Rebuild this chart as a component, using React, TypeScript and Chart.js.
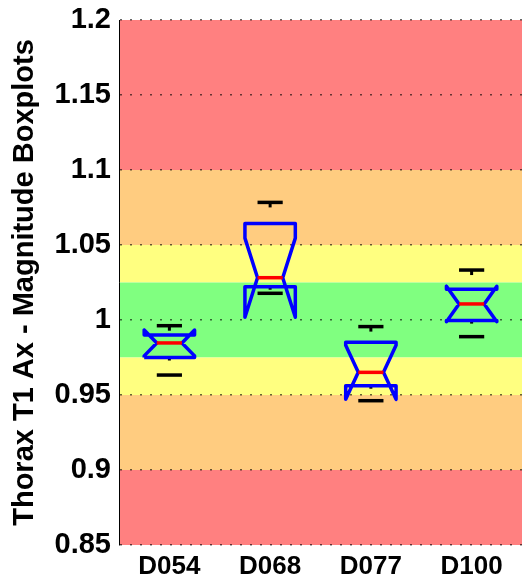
import React, { useEffect, useRef } from 'react';
import { Chart, registerables } from 'chart.js';
Chart.register(...registerables);

const categories = ['D054', 'D068', 'D077', 'D100'];
const whiskerHigh = [0.9962, 1.0784, 0.9956, 1.0333];
const q3 = [0.99, 1.0644, 0.9851, 1.0205];
const notchHigh = [0.9933, 1.0546, 0.9831, 1.0225];
const medians = [0.9847, 1.0282, 0.9651, 1.0107];
const notchLow = [0.9761, 1.0018, 0.9471, 0.9989];
const q1 = [0.975, 1.0222, 0.9562, 0.9996];
const whiskerLow = [0.9633, 1.0178, 0.9462, 0.9889];

const yTicks = [0.85, 0.9, 0.95, 1, 1.05, 1.1, 1.15, 1.2];
const bandLows = [1.1, 1.05, 1.025, 0.975, 0.95, 0.9, 0.85];
const bandHighs = [1.2, 1.1, 1.05, 1.025, 0.975, 0.95, 0.9];
const bandColors = ['#FF8080', '#FFCC80', '#FFFF80', '#80FF80', '#FFFF80', '#FFCC80', '#FF8080'];

const BOX_HALF = 0.25;
const NOTCH_HALF = 0.125;

const bandsPlugin = {
  id: 'bands',
  beforeDraw(chart: any) {
    const { ctx, chartArea, scales } = chart;
    const y = scales.y;
    ctx.save();
    bandLows.forEach((lo, i) => {
      const top = y.getPixelForValue(bandHighs[i]);
      const bot = y.getPixelForValue(lo);
      ctx.fillStyle = bandColors[i];
      ctx.fillRect(chartArea.left, top, chartArea.right - chartArea.left, bot - top);
    });
    ctx.restore();
  },
};

function buildDatasets() {
  const ds: any[] = [];
  categories.forEach((_, i) => {
    const c = i + 1;
    const outline = [
      { x: c - BOX_HALF, y: q1[i] },
      { x: c - BOX_HALF, y: notchLow[i] },
      { x: c - NOTCH_HALF, y: medians[i] },
      { x: c - BOX_HALF, y: notchHigh[i] },
      { x: c - BOX_HALF, y: q3[i] },
      { x: c + BOX_HALF, y: q3[i] },
      { x: c + BOX_HALF, y: notchHigh[i] },
      { x: c + NOTCH_HALF, y: medians[i] },
      { x: c + BOX_HALF, y: notchLow[i] },
      { x: c + BOX_HALF, y: q1[i] },
      { x: c - BOX_HALF, y: q1[i] },
    ];
    const common = { showLine: true, pointRadius: 0, fill: false, tension: 0, borderCapStyle: 'butt', borderJoinStyle: 'round' };
    ds.push({ ...common, label: 'median', data: [{ x: c - NOTCH_HALF, y: medians[i] }, { x: c + NOTCH_HALF, y: medians[i] }], borderColor: '#FF0000', borderWidth: 3.5, order: 0 });
    ds.push({ ...common, label: 'capHi', data: [{ x: c - NOTCH_HALF, y: whiskerHigh[i] }, { x: c + NOTCH_HALF, y: whiskerHigh[i] }], borderColor: '#000000', borderWidth: 3.5, order: 0 });
    ds.push({ ...common, label: 'capLo', data: [{ x: c - NOTCH_HALF, y: whiskerLow[i] }, { x: c + NOTCH_HALF, y: whiskerLow[i] }], borderColor: '#000000', borderWidth: 3.5, order: 0 });
    ds.push({ ...common, label: 'box', data: outline, borderColor: '#0000FF', borderWidth: 3.5, order: 1 });
    ds.push({ ...common, label: 'whiskHi', data: [{ x: c, y: whiskerHigh[i] }, { x: c, y: q3[i] }], borderColor: '#000000', borderWidth: 3, borderDash: [5, 40], order: 2 });
    ds.push({ ...common, label: 'whiskLo', data: [{ x: c, y: q1[i] }, { x: c, y: whiskerLow[i] }], borderColor: '#000000', borderWidth: 3, borderDash: [3, 40], order: 2 });
  });
  return ds;
}

export default function App() {
  const ref = useRef<HTMLCanvasElement>(null);
  useEffect(() => {
    if (!ref.current) return;
    const chart = new Chart(ref.current, {
      type: 'scatter',
      data: { datasets: buildDatasets() },
      plugins: [bandsPlugin],
      options: {
        responsive: false,
        animation: false,
        layout: { padding: { top: 20, right: 1, left: 0, bottom: 0 } },
        plugins: { legend: { display: false }, tooltip: { enabled: false } },
        scales: {
          x: {
            type: 'linear',
            min: 0.5,
            max: 4.5,
            afterBuildTicks: (scale: any) => {
              scale.ticks = categories.map((_, i) => ({ value: i + 1 }));
            },
            afterFit: (scale: any) => {
              scale.height = 39;
              scale.paddingLeft = 0;
              scale.paddingRight = 0;
            },
            grid: { display: false, drawTicks: false },
            border: { display: false },
            ticks: {
              autoSkip: false,
              maxRotation: 0,
              padding: 6,
              color: '#000',
              font: { family: 'Liberation Sans, Arial, sans-serif', size: 26, weight: 'bold' },
              callback: (v: any) => categories[Math.round(v) - 1] ?? '',
            },
          },
          y: {
            type: 'linear',
            min: 0.85,
            max: 1.2,
            afterBuildTicks: (scale: any) => {
              scale.ticks = yTicks.map((v) => ({ value: v }));
            },
            afterFit: (scale: any) => {
              scale.width = 119;
              scale.paddingTop = 0;
              scale.paddingBottom = 0;
            },
            grid: { color: 'rgba(0,0,0,0.6)', lineWidth: 1.5, drawTicks: false },
            border: { display: true, color: '#000', width: 1, dash: [2, 8] },
            ticks: {
              padding: 8,
              color: '#000',
              font: { family: 'Liberation Sans, Arial, sans-serif', size: 29, weight: 'bold' },
              callback: (v: any) => String(v),
            },
            title: {
              display: true,
              text: 'Thorax T1 Ax - Magnitude Boxplots',
              color: '#000',
              padding: { top: 8, bottom: 0 },
              font: { family: 'Liberation Sans, Arial, sans-serif', size: 29, weight: 'bold' },
            },
          },
        },
      } as any,
    });
    return () => chart.destroy();
  }, []);
  return (
    <div style={{ position: 'absolute', left: 0, top: 0, width: 523, height: 584, background: '#fff' }}>
      <canvas ref={ref} width={523} height={584} style={{ display: 'block' }} />
    </div>
  );
}
